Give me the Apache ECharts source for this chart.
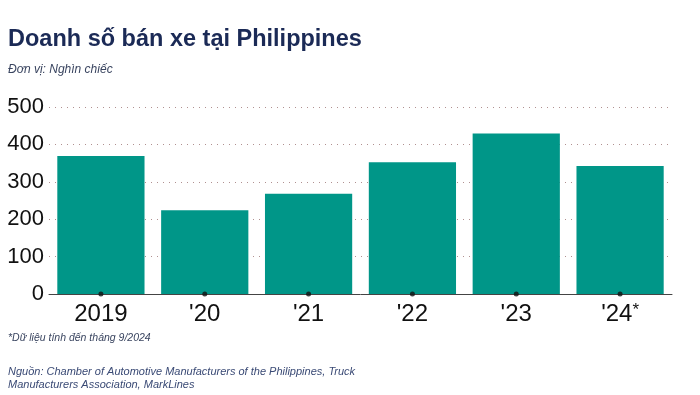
<!DOCTYPE html>
<html><head><meta charset="utf-8">
<script src="https://cdn.jsdelivr.net/npm/echarts@6/dist/echarts.min.js"></script>
<style>html,body{margin:0;padding:0;background:#fff}#c{width:700px;height:395px}</style>
</head><body><div id="c"></div>
<script>
const categories = ['2019', "'20", "'21", "'22", "'23", "'24*"];
const sales = [369, 224, 268, 352, 429, 342];
const yTicks = [0, 100, 200, 300, 400, 500];

const chart = echarts.init(document.getElementById('c'), null, {renderer: 'canvas'});
chart.setOption({
  animation: false,
  backgroundColor: '#fff',
  title: [
    {text: 'Doanh số bán xe tại Philippines', left: 8, top: 28, padding: 0,
     textStyle: {fontFamily: 'Liberation Sans, Arial', fontWeight: 'bold', fontSize: 23.5, color: '#1b2a56'}},
    {text: 'Đơn vị: Nghìn chiếc', left: 8, top: 64, padding: 0,
     textStyle: {fontFamily: 'Liberation Sans, Arial', fontStyle: 'italic', fontWeight: 'normal', fontSize: 12, color: '#3a4560'}},
    {text: '*Dữ liệu tính đến tháng 9/2024', left: 8, top: 333, padding: 0,
     textStyle: {fontFamily: 'Liberation Sans, Arial', fontStyle: 'italic', fontWeight: 'normal', fontSize: 10.5, color: '#3a4560'}},
    {text: 'Nguồn: Chamber of Automotive Manufacturers of the Philippines, Truck\nManufacturers Association, MarkLines', left: 8, top: 365, padding: 0,
     textStyle: {fontFamily: 'Liberation Sans, Arial', fontStyle: 'italic', fontWeight: 'normal', fontSize: 11, lineHeight: 13, color: '#3a4a75'}}
  ],
  grid: {left: 49, right: 28, top: 107, bottom: 101},
  xAxis: {
    type: 'category', data: categories,
    axisLine: {lineStyle: {color: '#444', width: 1}},
    axisTick: {show: false},
    axisLabel: {
      interval: 0, hideOverlap: false,
      margin: 8,
      fontFamily: 'Liberation Sans, Arial', fontSize: 24, color: '#111',
      formatter: v => v.endsWith('*') ? '{m|' + v.slice(0, -1) + '}{s|*}' : v,
      rich: {
        m: {fontFamily: 'Liberation Sans, Arial', fontSize: 24, color: '#111', lineHeight: 26, verticalAlign: 'top'},
        s: {fontFamily: 'Liberation Sans, Arial', fontSize: 17, color: '#111', lineHeight: 17, verticalAlign: 'top'}
      }
    }
  },
  yAxis: {
    type: 'value', min: 0, max: 500, interval: 100,
    axisLine: {show: false}, axisTick: {show: false},
    axisLabel: {fontFamily: 'Liberation Sans, Arial', fontSize: 22, color: '#111', margin: 5},
    splitLine: {lineStyle: {type: [1, 5], color: '#b09090', width: 1}}
  },
  series: [
    {type: 'bar', data: sales, barCategoryGap: '16%', itemStyle: {color: '#009688'}, z: 2},
    {type: 'scatter', data: categories.map(c => [c, 0]), symbol: 'circle', symbolSize: 5,
     itemStyle: {color: '#111'}, z: 5, silent: true}
  ]
});
</script></body></html>
